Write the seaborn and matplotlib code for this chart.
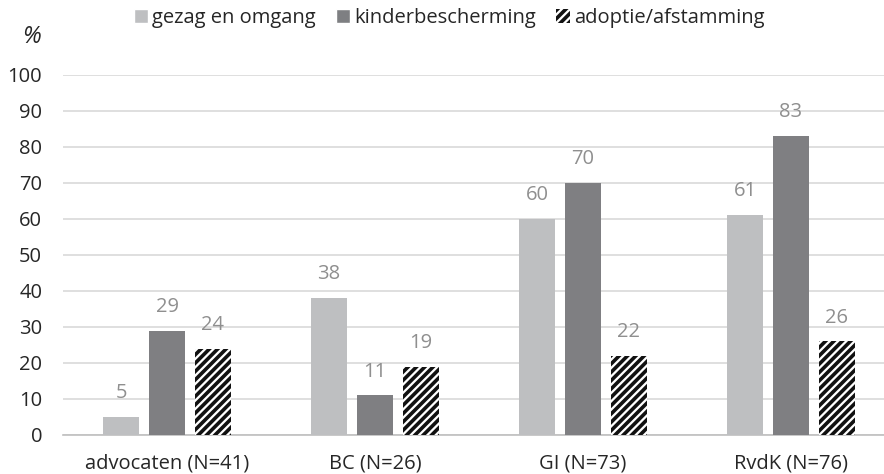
import pandas as pd
import matplotlib.pyplot as plt
import seaborn as sns
from matplotlib.patches import Patch

groups = ['advocaten (N=41)', 'BC (N=26)', 'GI (N=73)', 'RvdK (N=76)']
series = ['gezag en omgang', 'kinderbescherming', 'adoptie/afstamming']
gezag = [5, 38, 60, 61]
kinder = [29, 11, 70, 83]
adoptie = [24, 19, 22, 26]

colors = ['#bebfc1', '#7e7f82', '#ffffff']

df = pd.DataFrame({
    'groep': groups * 3,
    'soort': [s for s in series for _ in groups],
    'pct': gezag + kinder + adoptie,
})

sns.set_style('white')
plt.rcParams['font.family'] = ['Open Sans', 'DejaVu Sans']
plt.rcParams['hatch.linewidth'] = 2.6

fig = plt.figure(figsize=(8.84, 4.74), dpi=100)
ax = fig.add_axes([0.0713, 0.0823, 0.9287, 0.7595])

sns.barplot(data=df, x='groep', y='pct', hue='soort', hue_order=series,
            palette=colors, width=0.663, gap=0.22, legend=False, ax=ax,
            errorbar=None, linewidth=0, zorder=3)

# hatch third series
for bar in ax.containers[2]:
    bar.set_hatch('////')
    bar.set_edgecolor('#111111')
    bar.set_linewidth(0)

for cont in ax.containers:
    ax.bar_label(cont, fmt='%d', padding=10, color='#8f8f8f', fontsize=14.5)

ax.set_ylim(0, 100)
ax.set_xlim(-0.5, 3.447)
ax.set_yticks(range(0, 101, 10))
ax.yaxis.grid(True, color='#d9d9d9', linewidth=1.2, zorder=0)
ax.set_axisbelow(True)
for s in ['top', 'right', 'left']:
    ax.spines[s].set_visible(False)
ax.spines['bottom'].set_color('#bfbfbf')
ax.spines['bottom'].set_linewidth(1.2)
ax.tick_params(axis='y', length=0, labelsize=14.5, colors='#262626', pad=15)
ax.tick_params(axis='x', length=0, labelsize=14.5, colors='#262626', pad=13)
ax.set_xlabel('')
ax.set_ylabel('')

fig.text(0.036, 0.922, '%', fontsize=17, style='italic', ha='center', va='center', color='#262626')

handles = [Patch(facecolor=colors[0]), Patch(facecolor=colors[1]),
           Patch(facecolor='white', edgecolor='#111111', hatch='////', linewidth=0)]
fig.legend(handles, series, loc='center', bbox_to_anchor=(0.508, 0.962), ncol=3,
           frameon=False, fontsize=14.5, handlelength=0.7, handleheight=0.7,
           handletextpad=0.2, columnspacing=1.0)

fig.savefig('out.png', dpi=100)
